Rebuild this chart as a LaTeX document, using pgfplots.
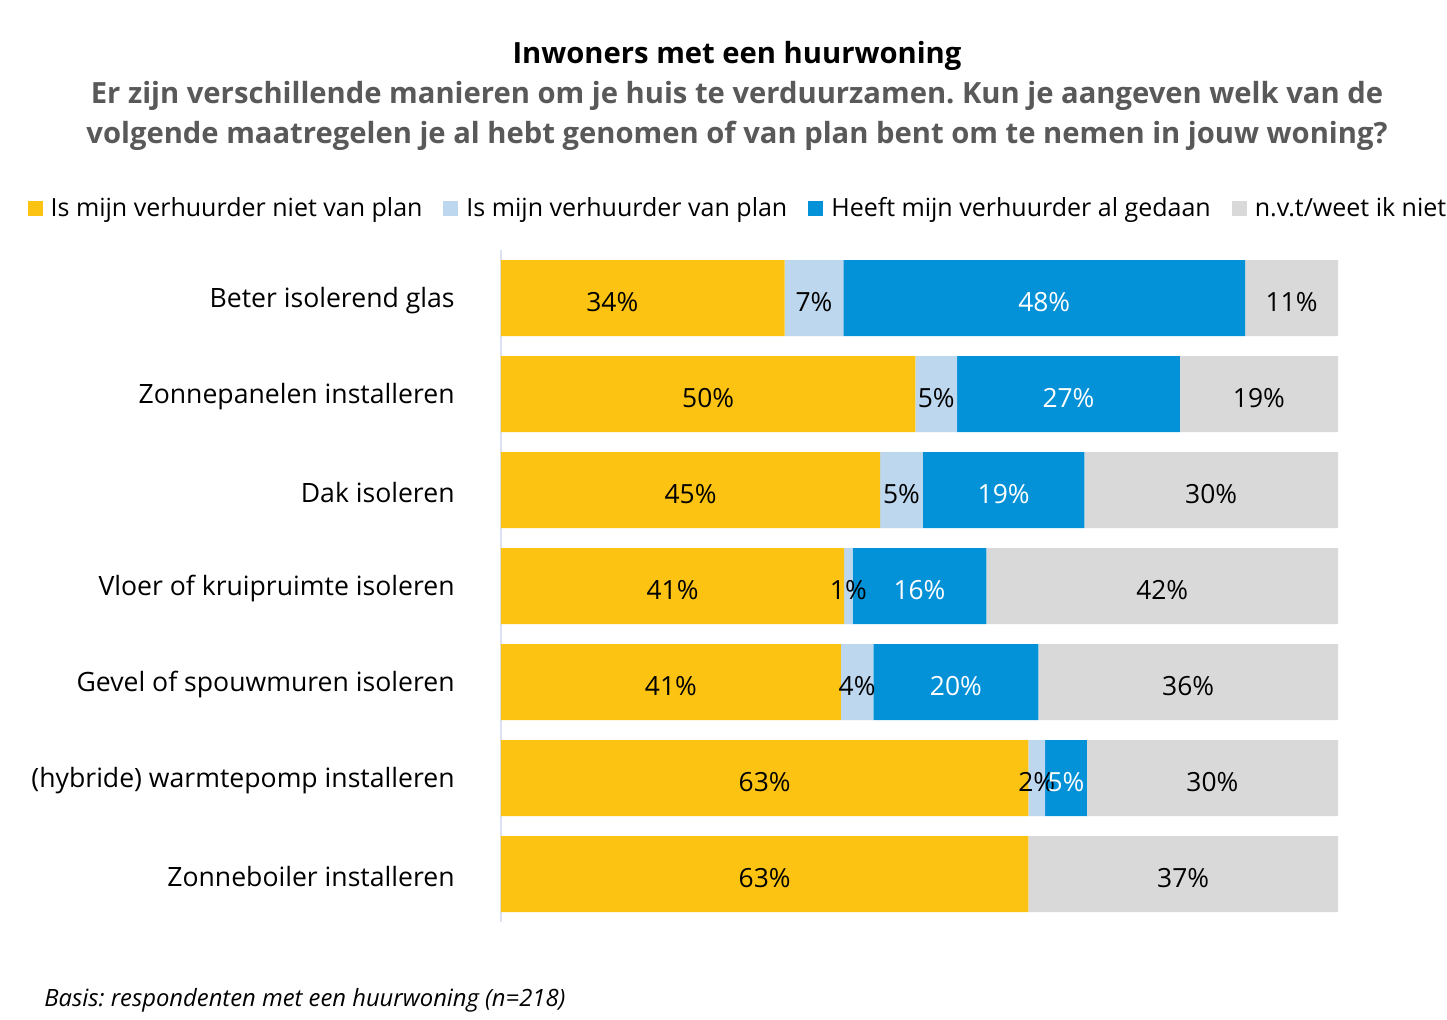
\documentclass[border=0pt]{standalone}
\usepackage{pgfplots}
\pgfplotsset{compat=1.18}
\usepackage{fontspec}
\setmainfont{Open Sans}
\frenchspacing
\definecolor{cyel}{HTML}{FDC312}
\definecolor{clb}{HTML}{BDD7EE}
\definecolor{cbl}{HTML}{0391D8}
\definecolor{cgr}{HTML}{D9D9D9}
\definecolor{csub}{HTML}{595959}
\definecolor{caxis}{HTML}{D9E1F2}
\begin{document}
\begin{tikzpicture}
\path[use as bounding box, fill=white] (0pt,0pt) rectangle (723.5pt,509.5pt);
\node[font=\bfseries\fontsize{14.6}{16}\selectfont, text=black] at (368.5pt,481.5pt) {Inwoners met een huurwoning};
\node[font=\bfseries\fontsize{14.6}{16}\selectfont, text=csub] at (368.5pt,461.5pt) {Er zijn verschillende manieren om je huis te verduurzamen. Kun je aangeven welk van de};
\node[font=\bfseries\fontsize{14.6}{16}\selectfont, text=csub] at (368.5pt,441.5pt) {volgende maatregelen je al hebt genomen of van plan bent om te nemen in jouw woning?};
\node[font=\itshape\fontsize{11.9}{14}\selectfont, anchor=west, inner sep=0pt] at (22pt,9.5pt) {Basis: respondenten met een huurwoning (n=218)};

\begin{axis}[at={(250.5pt,384.5pt)}, anchor=north west, scale only axis,
  width=418.5pt, height=336pt,
  xbar stacked, bar width=38pt,
  xmin=0, xmax=100, ymin=-0.5, ymax=6.5, y dir=reverse,
  ytick={0,1,2,3,4,5,6},
  yticklabels={Beter isolerend glas, Zonnepanelen installeren, Dak isoleren, Vloer of kruipruimte isoleren, Gevel of spouwmuren isoleren, (hybride) warmtepomp installeren, Zonneboiler installeren},
  yticklabel style={font=\fontsize{13.3}{15}\selectfont, anchor=east, inner sep=0pt, xshift=-23pt, yshift=-1.5pt},
  xtick=\empty, major tick length=0pt,
  axis line style={draw=none},
  legend style={at={(-0.566,1.0625)}, anchor=west, draw=none, fill=none, inner sep=0pt,
    font=\fontsize{12.5}{14}\selectfont, legend columns=4,
    /tikz/every even column/.append style={column sep=9pt},
    /tikz/every odd column/.append style={column sep=2.5pt},
    nodes={inner sep=1.5pt}},
  legend image code/.code={\fill[#1] (0pt,-3.75pt) rectangle (7.5pt,3.75pt);},
  clip=false,
]
\addplot[fill=cyel, draw=none] coordinates {(33.9,0) (49.5,1) (45.3,2) (41.0,3) (40.6,4) (63.0,5) (63.0,6)};
\addplot[fill=clb, draw=none] coordinates {(7.0,0) (5.0,1) (5.1,2) (1.0,3) (3.9,4) (2.0,5) (0,6)};
\addplot[fill=cbl, draw=none] coordinates {(48.0,0) (26.6,1) (19.3,2) (16.0,3) (19.7,4) (5.0,5) (0,6)};
\addplot[fill=cgr, draw=none] coordinates {(11.1,0) (18.9,1) (30.3,2) (42.0,3) (35.8,4) (30.0,5) (37.0,6)};
\legend{Is mijn verhuurder niet van plan, Is mijn verhuurder van plan, Heeft mijn verhuurder al gedaan, n.v.t/weet ik niet}
\draw[caxis, line width=1pt] (rel axis cs:0,0) -- (rel axis cs:0,1);
\end{axis}

\begin{axis}[at={(250.5pt,384.5pt)}, anchor=north west, scale only axis,
  width=418.5pt, height=336pt,
  xmin=0, xmax=100, ymin=-0.5, ymax=6.5, y dir=reverse,
  hide axis, clip=false,
  nodes near coords, point meta=explicit symbolic,
  every node near coord/.style={anchor=center, inner sep=0pt, yshift=-2pt, font=\fontsize{13.2}{15}\selectfont},
]
\addplot[only marks, mark=none, nodes near coords style={text=black}] coordinates {
 (13.3,0) [34\%] (37.4,0) [7\%] (94.45,0) [11\%]
 (24.75,1) [50\%] (52.0,1) [5\%] (90.55,1) [19\%]
 (22.65,2) [45\%] (47.85,2) [5\%] (84.85,2) [30\%]
 (20.5,3) [41\%] (41.5,3) [1\%] (79.0,3) [42\%]
 (20.3,4) [41\%] (42.55,4) [4\%] (82.1,4) [36\%]
 (31.5,5) [63\%] (64.0,5) [2\%] (85.0,5) [30\%]
 (31.5,6) [63\%] (81.5,6) [37\%]
};
\addplot[only marks, mark=none, nodes near coords style={text=white}] coordinates {
 (64.9,0) [48\%] (67.8,1) [27\%] (60.05,2) [19\%] (50.0,3) [16\%] (54.35,4) [20\%] (67.5,5) [5\%]
};
\end{axis}
\end{tikzpicture}
\end{document}
